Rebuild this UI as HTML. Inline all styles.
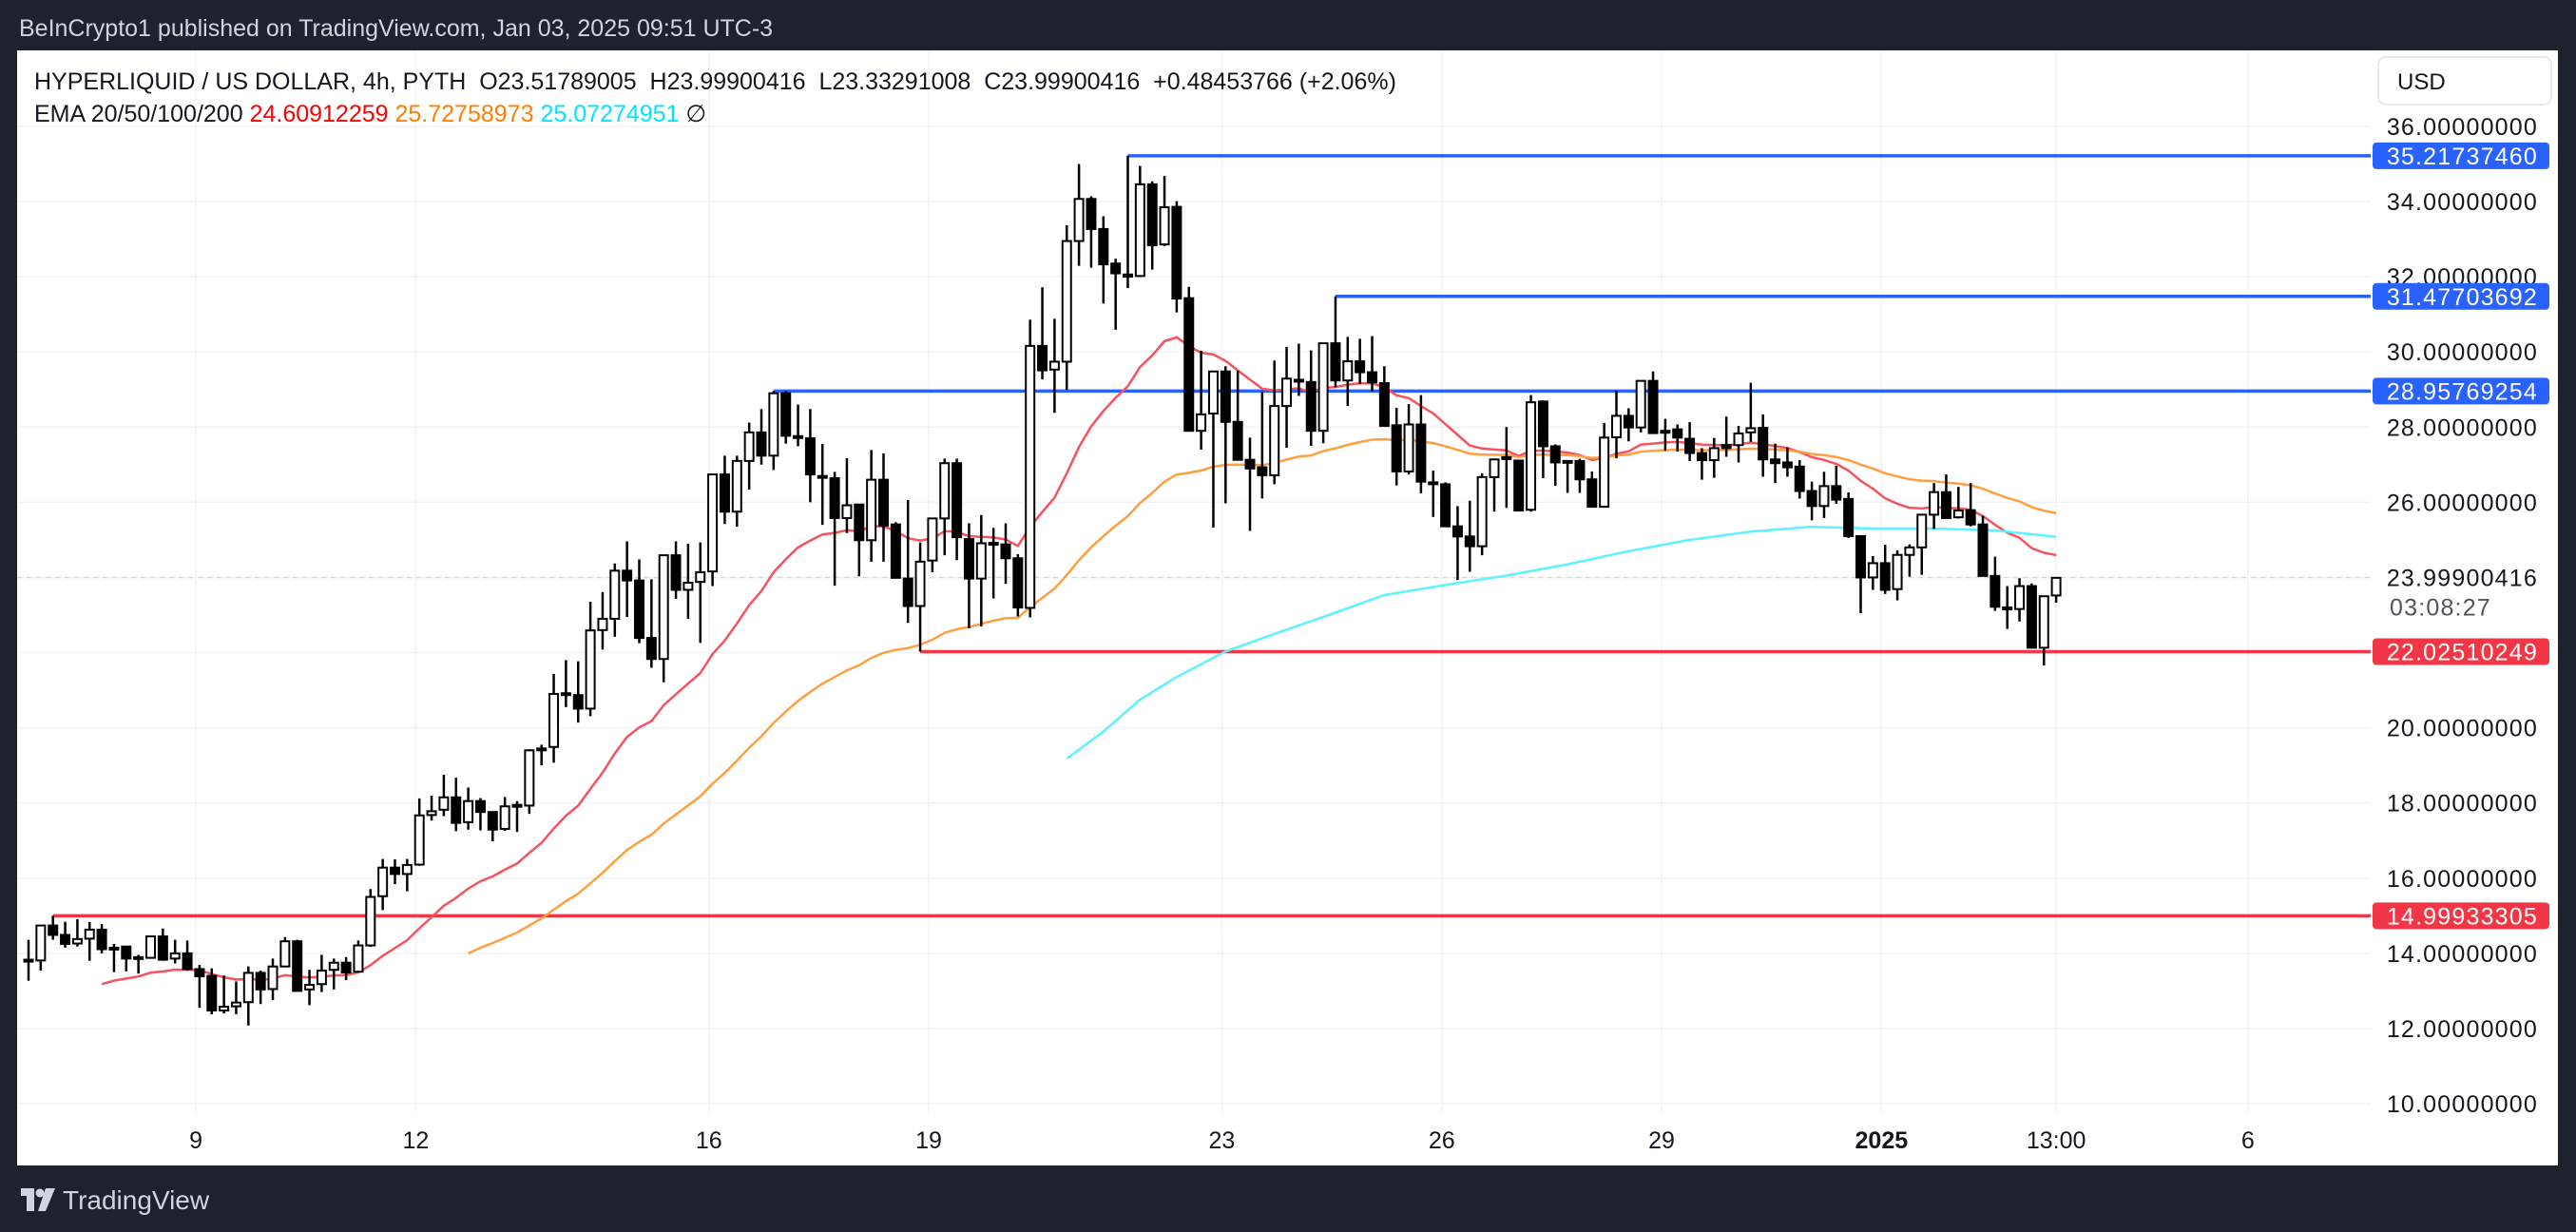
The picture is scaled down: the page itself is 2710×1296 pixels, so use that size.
<!DOCTYPE html>
<html><head><meta charset="utf-8">
<style>
html,body{margin:0;padding:0;background:#1e222d;}
svg{display:block;font-family:"Liberation Sans",sans-serif;}
</style></head>
<body>
<svg id="chart" width="2710" height="1296" viewBox="0 0 2710 1296" xmlns="http://www.w3.org/2000/svg">
<rect x="0" y="0" width="2710" height="1296" fill="#1e222d"/>
<text x="20" y="38" font-size="25" fill="#d1d4dc">BeInCrypto1 published on TradingView.com, Jan 03, 2025 09:51 UTC-3</text>
<rect x="18" y="53" width="2673" height="1173" fill="#ffffff"/>
<g id="grid"></g>
<g id="levels"></g>
<g id="emas"></g>
<g id="candles"></g>
<g id="yaxis"></g>
<g id="xaxis"></g>
<text x="36" y="94" font-size="25" fill="#131722" xml:space="preserve">HYPERLIQUID / US DOLLAR, 4h, PYTH  O23.51789005  H23.99900416  L23.33291008  C23.99900416  +0.48453766 (+2.06%)</text>
<text x="36" y="128" font-size="25" fill="#131722" xml:space="preserve">EMA 20/50/100/200 <tspan fill="#ff0000">24.60912259</tspan> <tspan fill="#ff7f00">25.72758973</tspan> <tspan fill="#00e5ff">25.07274951</tspan> <tspan fill="#131722">∅</tspan></text>
<rect x="2502" y="60" width="182" height="50" rx="8" fill="#fff" stroke="#e0e3eb" stroke-width="1.5"/>
<text x="2522" y="94" font-size="24" fill="#131722">USD</text>
<g>
<rect x="22" y="1250" width="14" height="8" fill="#d1d4dc"/>
<rect x="28" y="1250" width="8" height="24" fill="#d1d4dc"/>
<circle cx="42" cy="1255" r="4.5" fill="#d1d4dc"/>
<polygon points="48,1250 58,1250 48,1274 40,1274" fill="#d1d4dc"/>
<text x="66" y="1272" font-size="28" fill="#d1d4dc">TradingView</text>
</g>
</svg>
<script>
const opens=[13.80,13.81,14.74,14.49,14.26,14.39,14.63,14.11,14.18,13.86,13.88,14.45,13.86,14.00,13.58,13.40,12.48,12.59,12.70,13.48,13.05,13.65,14.32,13.04,13.18,13.56,13.75,13.51,14.21,15.52,16.28,16.11,16.36,17.68,17.82,18.15,17.49,18.05,17.76,17.31,17.93,17.93,19.43,19.49,20.90,20.87,20.51,22.60,22.90,24.18,23.92,22.39,21.83,24.59,23.67,23.88,24.16,26.74,25.75,27.10,27.86,27.24,28.90,27.76,27.70,26.70,26.64,25.58,25.94,24.99,26.60,25.41,23.97,23.24,24.45,25.57,27.04,25.02,23.97,24.90,24.88,24.51,23.19,30.16,29.53,29.74,32.95,34.07,33.27,32.35,32.06,32.02,34.46,32.86,33.86,31.43,27.90,28.36,29.48,28.14,27.13,26.93,26.72,28.56,29.26,29.20,27.90,30.23,29.24,29.75,29.46,29.17,28.05,26.82,28.07,26.53,26.48,25.36,25.09,24.83,26.67,27.20,27.11,25.80,28.68,27.49,27.09,27.10,26.61,25.88,27.73,28.30,27.99,29.23,27.90,27.94,27.69,27.31,27.12,27.52,27.52,27.86,27.98,27.14,27.06,26.95,26.30,25.90,26.43,26.09,25.10,24.00,24.38,23.69,24.60,24.80,25.67,26.27,25.60,25.79,25.41,24.04,23.20,23.16,23.77,22.13,23.52];
const highs=[14.36,14.76,15.00,14.84,14.91,14.83,14.78,14.25,14.20,13.96,14.47,14.66,14.36,14.34,13.69,13.60,13.41,13.25,13.65,13.54,13.86,14.43,14.36,13.56,13.96,13.86,13.90,14.34,15.71,16.51,16.50,16.51,18.12,18.19,18.75,18.67,18.41,18.13,17.78,18.16,18.05,19.43,19.55,21.43,21.80,21.77,23.35,23.61,24.37,24.96,24.48,23.95,24.60,24.96,24.90,24.93,26.76,27.24,27.24,28.12,28.48,28.96,28.96,28.60,28.48,27.55,26.81,27.17,25.96,27.39,27.30,25.47,26.06,24.93,25.57,27.16,27.16,25.44,25.66,25.32,25.44,24.62,30.86,31.72,30.88,33.37,35.00,34.14,33.61,32.48,35.22,34.95,34.54,34.68,34.01,31.73,30.03,29.48,29.62,29.50,27.72,28.93,29.77,30.13,30.22,30.04,30.23,31.48,30.40,30.35,30.42,29.62,28.51,28.61,28.85,26.84,26.53,25.90,26.04,26.77,27.14,28.00,27.11,28.85,28.71,27.54,27.12,27.16,26.82,28.11,28.97,28.50,29.23,29.48,28.22,28.07,28.13,27.44,27.71,28.28,28.03,29.18,28.34,27.56,27.46,27.12,26.55,26.81,26.97,26.26,25.10,24.57,24.87,24.72,24.88,25.67,26.51,26.74,26.41,26.51,25.64,24.55,23.77,23.98,23.84,23.50,23.99];
const lows=[13.27,13.54,14.36,14.15,14.18,13.80,14.00,13.50,13.52,13.46,13.86,13.80,13.73,13.54,12.55,12.38,12.40,12.38,12.08,12.65,12.76,13.63,13.00,12.62,12.97,13.04,13.29,13.49,14.17,15.15,15.84,15.65,16.33,17.53,17.65,17.25,17.29,17.27,16.98,17.26,17.23,17.71,19.00,19.07,20.55,20.14,20.31,22.08,22.42,22.95,22.25,21.60,21.21,23.43,22.90,22.26,23.77,25.42,25.35,26.34,27.00,26.86,27.56,27.49,26.00,25.40,23.78,25.18,24.03,24.42,24.42,23.97,22.79,22.03,24.14,24.59,24.46,22.65,22.70,23.44,23.83,22.96,22.94,29.27,28.38,28.99,32.29,32.24,31.29,30.59,31.70,31.99,32.19,32.82,31.05,27.88,27.40,25.33,25.97,27.13,25.24,26.10,26.48,27.45,28.83,27.50,27.57,29.06,28.56,29.14,28.95,28.03,26.45,26.74,26.24,25.61,25.36,23.93,24.15,24.59,25.75,25.85,25.78,25.75,26.64,26.44,26.25,26.25,25.88,25.86,27.17,27.62,27.86,27.84,27.37,27.35,27.10,26.60,26.65,27.21,27.06,27.61,26.68,26.51,26.68,26.10,25.52,25.58,25.96,25.05,23.05,23.67,23.56,23.39,24.02,24.07,25.29,25.56,25.57,25.36,24.04,23.11,22.63,22.83,22.13,21.66,23.33];
const closes=[13.83,14.74,14.49,14.25,14.38,14.63,14.11,14.15,13.86,13.90,14.45,13.83,14.00,13.58,13.39,12.48,12.58,12.69,13.48,13.04,13.65,14.32,13.00,13.16,13.54,13.75,13.49,14.21,15.50,16.28,16.11,16.35,17.67,17.78,18.15,17.47,18.05,17.76,17.29,17.91,17.95,19.40,19.45,20.90,20.92,20.51,22.59,22.90,24.18,23.92,22.39,21.83,24.59,23.67,23.86,24.14,26.74,25.75,27.10,27.86,27.24,28.90,27.77,27.75,26.74,26.68,25.58,25.92,24.99,26.60,25.38,23.99,23.24,24.42,25.57,27.04,25.07,23.97,24.91,24.92,24.51,23.20,30.16,29.51,29.74,32.95,34.07,33.27,32.33,32.09,32.00,34.46,32.84,33.85,31.42,27.90,28.34,29.48,28.14,27.13,26.90,26.72,28.56,29.29,29.26,27.90,30.23,29.24,29.75,29.46,29.19,28.03,26.82,28.07,26.55,26.50,25.36,25.09,24.83,26.67,27.14,27.20,25.78,28.66,27.49,27.06,27.10,26.61,25.88,27.72,28.30,27.99,29.23,27.84,27.88,27.72,27.31,27.12,27.44,27.44,27.83,27.97,27.14,27.04,26.93,26.30,25.90,26.43,26.07,25.10,24.00,24.38,23.67,24.60,24.80,25.67,26.27,25.58,25.78,25.41,24.04,23.22,23.18,23.77,22.13,23.50,23.99];
const ema20Start=6, ema20Seed=13.18;
const ema50Start=36, ema50Seed=14.0;
const ema200Idx=[85,88,91,94,98,102,106,111,116,121,126,131,136,141,146,151,156,161,166];
const ema200Vals=[19.18,19.9,20.75,21.35,22.03,22.5,22.95,23.53,23.8,24.05,24.35,24.7,25.0,25.22,25.35,25.3,25.3,25.25,25.08];
const priceTicks=[36,34,32,30,28,26,20,18,16,14,12,10];
const gridPrices=[36,34,32,30,28,26,24,22,20,18,16,14,12,10];
const timeLabels=["9","12","16","19","23","26","29","2025","13:00","6"];
const timeLabelIdx=[13.7,31.7,55.7,73.7,97.7,115.7,133.7,151.7,166,181.7];
const levelValues=[35.2173746,31.47703692,28.95769254,22.02510249,14.99933305];
const levelLabels=["35.21737460","31.47703692","28.95769254","22.02510249","14.99933305"];
const levelStartIdx=[90,107,61,73,2];
const levelColors=["#2962ff","#2962ff","#2962ff","#f23645","#f23645"];
const lastPrice=23.99900416;
const countdown="03:08:27";

const NS="http://www.w3.org/2000/svg";
const X0=30, DX=12.85, PLOT_R=2494;
function xs(i){return X0+DX*i;}
function ys(v){return 1161-(v-10)*39.54;}
function mk(tag,attrs,parent){const e=document.createElementNS(NS,tag);for(const k in attrs)e.setAttribute(k,attrs[k]);parent.appendChild(e);return e;}

const grid=document.getElementById('grid');
gridPrices.forEach(p=>{
  const l=mk('line',{x1:18,x2:PLOT_R,y1:ys(p),y2:ys(p),stroke:'#f0f3fa','stroke-width':1.5},grid);
  
  
});
timeLabelIdx.forEach(t=>{
  const l=mk('line',{x1:xs(t),x2:xs(t),y1:53,y2:1170,stroke:'#f0f3fa','stroke-width':1.5},grid);
  
  
});
const cur=mk('line',{x1:18,x2:PLOT_R,y1:ys(lastPrice),y2:ys(lastPrice),stroke:'#d6d8de','stroke-width':1.5,'stroke-dasharray':'5 5'},grid);



const lv=document.getElementById('levels');
levelValues.forEach((v,k)=>{
  const l=mk('line',{x1:xs(levelStartIdx[k]),x2:PLOT_R,y1:ys(v),y2:ys(v),stroke:levelColors[k],'stroke-width':3.5},lv);
  
  
});

function emaSeries(start,seed,period){
  const a=2/(period+1);let e=seed;const pts=[[start,e]];
  for(let i=start+1;i<closes.length;i++){e=a*closes[i]+(1-a)*e;pts.push([i,e]);}
  return pts;
}
const emas=document.getElementById('emas');
function poly(pts,color,name){
  const p=mk('polyline',{points:pts.map(q=>xs(q[0]).toFixed(1)+','+ys(q[1]).toFixed(1)).join(' '),fill:'none',stroke:color,'stroke-width':2.5,'stroke-linejoin':'round'},emas);
  
  
}
poly(emaSeries(ema20Start,ema20Seed,20),'#f7525f','ema-20-line');
poly(emaSeries(ema50Start,ema50Seed,50),'#ffa040','ema-50-line');
poly(ema200Idx.map((i,k)=>[i,ema200Vals[k]]),'#5cf2ff','ema-200-line');

const cg=document.getElementById('candles');
for(let i=0;i<closes.length;i++){
  const x=xs(i),o=opens[i],c=closes[i],bull=c>=o;
  const w=mk('line',{x1:x,x2:x,y1:ys(highs[i]),y2:ys(lows[i]),stroke:'#000','stroke-width':2.5},cg);
  
  
  const top=ys(Math.max(o,c)),bot=ys(Math.min(o,c));
  const h=Math.max(bot-top,2);
  const b=mk('rect',{x:x-4.5,y:top,width:9,height:h,fill:bull?'#fff':'#000',stroke:'#000','stroke-width':2},cg);
  
  
}

const ya=document.getElementById('yaxis');
priceTicks.forEach(p=>{
  const t=mk('text',{x:2670,y:ys(p)+9,'font-size':25,fill:'#131722','text-anchor':'end','letter-spacing':'1.2'},ya);
  t.textContent=p.toFixed(8);
  
  
});
const lp=mk('text',{x:2670,y:ys(lastPrice)+9,'font-size':25,fill:'#131722','text-anchor':'end','letter-spacing':'1.2'},ya);
lp.textContent=lastPrice.toFixed(8);


const cd=mk('text',{x:2514,y:ys(lastPrice)+40,'font-size':25,fill:'#50535e','letter-spacing':'1.2'},ya);
cd.textContent=countdown;


levelValues.forEach((v,k)=>{
  const r=mk('rect',{x:2496,y:ys(v)-14,width:186,height:28,rx:4,fill:levelColors[k]},ya);
  
  
  const t=mk('text',{x:2670,y:ys(v)+9,'font-size':25,fill:'#fff','text-anchor':'end','letter-spacing':'1.2'},ya);
  t.textContent=levelLabels[k];
  
  
});

const xa=document.getElementById('xaxis');
timeLabels.forEach((s,k)=>{
  const t=mk('text',{x:xs(timeLabelIdx[k]),y:1208,'font-size':25,fill:'#131722','text-anchor':'middle','font-weight':s==='2025'?'bold':'normal'},xa);
  t.textContent=s;
  
  
});
</script>
</body></html>
